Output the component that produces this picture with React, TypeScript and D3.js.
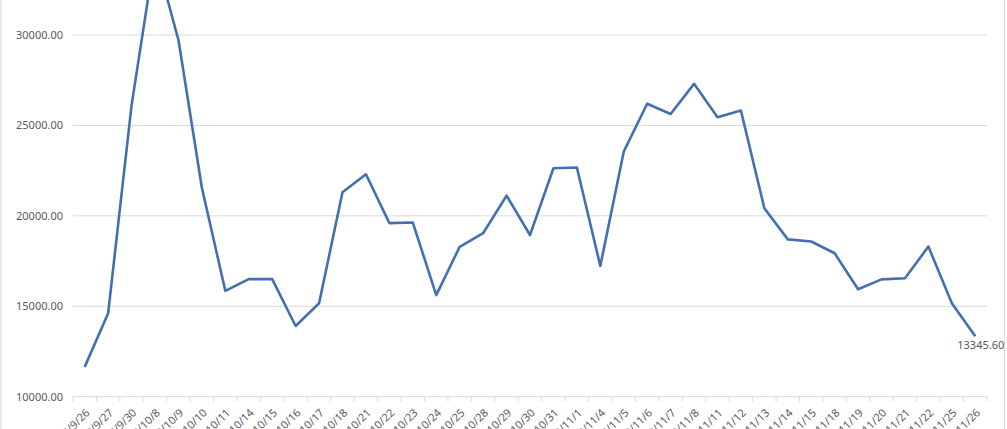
import React from "react";
import { scaleBand, scaleLinear, line } from "d3";

const dates = [
  "2019/9/26", "2019/9/27", "2019/9/30", "2019/10/8", "2019/10/9", "2019/10/10",
  "2019/10/11", "2019/10/14", "2019/10/15", "2019/10/16", "2019/10/17", "2019/10/18",
  "2019/10/21", "2019/10/22", "2019/10/23", "2019/10/24", "2019/10/25", "2019/10/28",
  "2019/10/29", "2019/10/30", "2019/10/31", "2019/11/1", "2019/11/4", "2019/11/5",
  "2019/11/6", "2019/11/7", "2019/11/8", "2019/11/11", "2019/11/12", "2019/11/13",
  "2019/11/14", "2019/11/15", "2019/11/18", "2019/11/19", "2019/11/20", "2019/11/21",
  "2019/11/22", "2019/11/25", "2019/11/26",
];

const values = [
  11650, 14620, 26120, 34500, 29720, 21550, 15850, 16500, 16500, 13910, 15170, 21300,
  22300, 19600, 19630, 15620, 18290, 19040, 21120, 18940, 22630, 22670, 17230, 23550,
  26200, 25630, 27300, 25450, 25820, 20420, 18700, 18580, 17930, 15940, 16490, 16550,
  18300, 15170, 13345.6,
];

const yTicks = [10000, 15000, 20000, 25000, 30000];

const W = 1007;
const H = 429;
const left = 73;
const right = 987;
const bottom = 396.7;
const top30k = 35;

const App: React.FC = () => {
  const x = scaleBand<string>().domain(dates).range([left, right]);
  const y = scaleLinear().domain([10000, 30000]).range([bottom, top30k]);
  const cx = (d: string) => x(d)! + x.bandwidth() / 2;

  const path = line<number>()
    .x((_, i) => cx(dates[i]))
    .y((d) => y(d))(values);

  const last = dates.length - 1;
  const textColor = "#595959";
  const gridColor = "#d9d9d9";

  return (
    <svg
      width={W}
      height={H}
      style={{ position: "absolute", left: 0, top: 0, fontFamily: "'Noto Sans', sans-serif" }}
    >
      <rect x={0} y={0} width={W} height={H} fill="#fff" />
      <line x1={1} x2={1} y1={0} y2={H} stroke={gridColor} />
      <line x1={1004.5} x2={1004.5} y1={0} y2={H} stroke={gridColor} />
      {yTicks.map((t) => (
        <g key={t}>
          <line x1={left} x2={right} y1={y(t)} y2={y(t)} stroke={gridColor} />
          <text x={63} y={y(t)} dy="0.35em" textAnchor="end" fontSize={11} fill={textColor}>
            {t.toFixed(2)}
          </text>
        </g>
      ))}
      {dates.map((d) => (
        <line key={"t" + d} x1={x(d)!} x2={x(d)!} y1={bottom} y2={bottom + 5} stroke={gridColor} />
      ))}
      <line x1={right} x2={right} y1={bottom} y2={bottom + 5} stroke={gridColor} />
      {dates.map((d) => (
        <text
          key={"l" + d}
          transform={`translate(${cx(d) + 3},${bottom + 14}) rotate(-45)`}
          textAnchor="end"
          dy="0.35em"
          fontSize={11}
          fill={textColor}
        >
          {d}
        </text>
      ))}
      <path d={path!} fill="none" stroke="#4470b0" strokeWidth={2.6} strokeLinejoin="round" />
      <text
        x={cx(dates[last]) - 18}
        y={y(values[last]) + 13}
        fontSize={11}
        fill={textColor}
      >
        {values[last].toFixed(2)}
      </text>
    </svg>
  );
};

export default App;
